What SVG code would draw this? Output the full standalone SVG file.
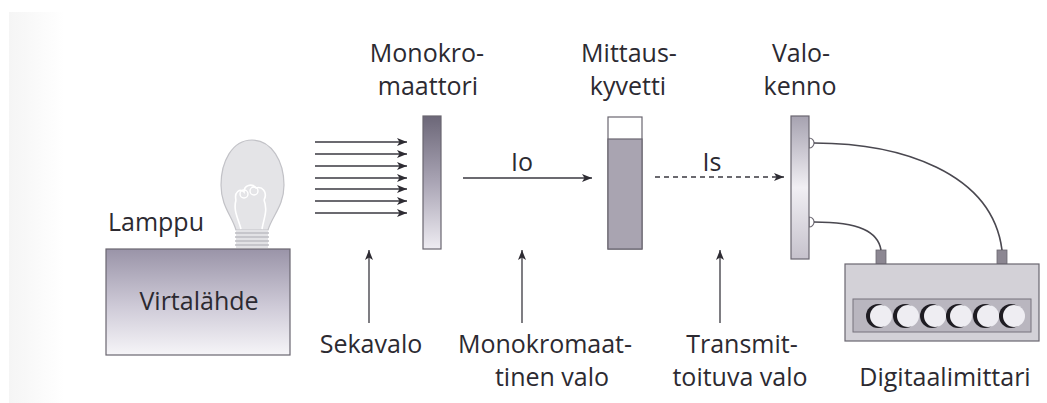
<svg xmlns="http://www.w3.org/2000/svg" width="1047" height="403" viewBox="0 0 1047 403">
  <defs>
    <style>
      .lbl { font-family: "Open Sans", "Noto Sans", "Liberation Sans", sans-serif; font-size: 25px; fill: #2c2a31; text-anchor: middle; }
      .edge { stroke: #3a3840; stroke-width: 1.3; fill: none; }
      .frame { stroke: #6a6670; stroke-width: 1.2; }
      .wire { stroke: #4a4850; stroke-width: 1.6; fill: none; }
    </style>
    <marker id="head" viewBox="0 0 10 8" refX="10" refY="4" markerWidth="10" markerHeight="8" markerUnits="userSpaceOnUse" orient="auto">
      <path d="M0,0 L10,4 L0,8 L2.5,4 Z" fill="#2e2c33"/>
    </marker>
    <linearGradient id="gBox" x1="0" y1="0" x2="0" y2="1">
      <stop offset="0" stop-color="#9a94a8"/>
      <stop offset="0.55" stop-color="#cfcbd8"/>
      <stop offset="1" stop-color="#f6f5f8"/>
    </linearGradient>
    <linearGradient id="gMono" x1="0" y1="0" x2="0" y2="1">
      <stop offset="0" stop-color="#6c6778"/>
      <stop offset="0.5" stop-color="#aaa5b5"/>
      <stop offset="1" stop-color="#eeecf2"/>
    </linearGradient>
    <linearGradient id="gCell" x1="0" y1="0" x2="0" y2="1">
      <stop offset="0" stop-color="#a6a2b0"/>
      <stop offset="0.5" stop-color="#f1eff4"/>
      <stop offset="1" stop-color="#c6c2cc"/>
    </linearGradient>
    <linearGradient id="gPage" x1="0" y1="0" x2="1" y2="0">
      <stop offset="0" stop-color="#f5f5f5"/>
      <stop offset="1" stop-color="#ffffff"/>
    </linearGradient>
  </defs>

  <!-- paper -->
  <rect x="0" y="0" width="1047" height="403" fill="#ffffff"/>
  <rect x="9" y="12" width="55" height="391" fill="url(#gPage)"/>

  <!-- power supply -->
  <g id="virtalahde">
    <rect x="106" y="249" width="184" height="106" fill="url(#gBox)" class="frame"/>
    <text class="lbl" x="199" y="310">Virtalähde</text>
  </g>

  <!-- lamp -->
  <g id="lamppu">
    <path d="M252 140 C272 140 284 162 284 185 C284 206 272 216 268 230 L236 230 C232 216 221 206 221 185 C221 162 232 140 252 140 Z" fill="#e4e4e7" stroke="#c2c2c7" stroke-width="1.2"/>
    <path d="M241 229 C238 218 233 210 236 200 M262 229 C264 218 268 210 264 200" stroke="#ffffff" stroke-width="1.6" fill="none"/>
    <path d="M236 200 C234 192 240 188 244 192 C244 185 252 183 256 188 C262 186 268 192 264 200" stroke="#ffffff" stroke-width="1.6" fill="none"/>
    <circle cx="244" cy="194" r="4" stroke="#ffffff" stroke-width="1.4" fill="none"/>
    <circle cx="254" cy="191" r="4" stroke="#ffffff" stroke-width="1.4" fill="none"/>
    <rect x="236" y="230" width="32" height="18" fill="#e2e2e5"/>
    <path d="M235 233 H269 M235 237 H269 M235 241 H269 M235 245 H269" stroke="#bdbdc2" stroke-width="1.3"/>
    <text class="lbl" x="156" y="231">Lamppu</text>
  </g>

  <!-- monochromator -->
  <g id="monokromaattori">
    <rect x="423" y="116" width="18" height="133" fill="url(#gMono)" class="frame"/>
    <text class="lbl" x="427" y="62">Monokro-</text>
    <text class="lbl" x="428" y="95">maattori</text>
  </g>

  <!-- cuvette -->
  <g id="mittauskyvetti">
    <rect x="608" y="117" width="34" height="132" fill="#ffffff" class="frame"/>
    <rect x="608" y="139" width="34" height="110" fill="#a9a4b1" class="frame"/>
    <text class="lbl" x="629" y="62">Mittaus-</text>
    <text class="lbl" x="628" y="95">kyvetti</text>
  </g>

  <!-- photocell -->
  <g id="valokenno">
    <path d="M809 138 A5 5 0 0 1 809 148 Z" fill="#ffffff" stroke="#6a6670" stroke-width="1.1"/>
    <path d="M809 217 A5 5 0 0 1 809 227 Z" fill="#ffffff" stroke="#6a6670" stroke-width="1.1"/>
    <rect x="791" y="116" width="18" height="143" fill="url(#gCell)" class="frame"/>
    <text class="lbl" x="801" y="62">Valo-</text>
    <text class="lbl" x="800" y="95">kenno</text>
  </g>

  <!-- digital meter -->
  <g id="digitaalimittari">
    <rect x="876" y="250" width="10" height="14" fill="#8c8792" stroke="#6a6670" stroke-width="0.8"/>
    <rect x="997" y="250" width="10" height="14" fill="#8c8792" stroke="#6a6670" stroke-width="0.8"/>
    <rect x="845" y="264" width="194" height="77" fill="#d3d1d7" class="frame"/>
    <rect x="853" y="299" width="178" height="33" fill="#b9b6bf" stroke="#77737d" stroke-width="1"/>
    <g>
      <circle cx="878" cy="316" r="12" fill="#1e1c22"/>
      <circle cx="881" cy="316" r="11" fill="#eeedf2"/>
      <circle cx="905" cy="316" r="12" fill="#1e1c22"/>
      <circle cx="908" cy="316" r="11" fill="#eeedf2"/>
      <circle cx="932" cy="316" r="12" fill="#1e1c22"/>
      <circle cx="935" cy="316" r="11" fill="#eeedf2"/>
      <circle cx="958" cy="316" r="12" fill="#1e1c22"/>
      <circle cx="961" cy="316" r="11" fill="#eeedf2"/>
      <circle cx="985" cy="316" r="12" fill="#1e1c22"/>
      <circle cx="988" cy="316" r="11" fill="#eeedf2"/>
      <circle cx="1011" cy="316" r="12" fill="#1e1c22"/>
      <circle cx="1014" cy="316" r="11" fill="#eeedf2"/>
    </g>
    <text class="lbl" x="945" y="386">Digitaalimittari</text>
  </g>

  <!-- light paths, pointers and wiring -->
  <g id="connectors">
    <path class="edge" marker-end="url(#head)" d="M315 142 H407"/>
    <path class="edge" marker-end="url(#head)" d="M315 154 H407"/>
    <path class="edge" marker-end="url(#head)" d="M315 166 H407"/>
    <path class="edge" marker-end="url(#head)" d="M315 178 H407"/>
    <path class="edge" marker-end="url(#head)" d="M315 189 H407"/>
    <path class="edge" marker-end="url(#head)" d="M315 201 H407"/>
    <path class="edge" marker-end="url(#head)" d="M315 213 H407"/>

    <path class="edge" marker-end="url(#head)" d="M463 178 H592"/>
    <text class="lbl" x="522" y="171">Io</text>

    <path class="edge" marker-end="url(#head)" stroke-dasharray="5 4" d="M655 177 H784"/>
    <text class="lbl" x="712" y="171">Is</text>

    <path class="edge" marker-end="url(#head)" d="M369 323 V250"/>
    <path class="edge" marker-end="url(#head)" d="M522 323 V250"/>
    <path class="edge" marker-end="url(#head)" d="M720 323 V250"/>

    <path class="wire" d="M814 143 C900 143 992 172 1002 250"/>
    <path class="wire" d="M814 222 C860 222 878 232 881 250"/>

    <text class="lbl" x="371" y="353">Sekavalo</text>
    <text class="lbl" x="545" y="353">Monokromaat-</text>
    <text class="lbl" x="552" y="386">tinen valo</text>
    <text class="lbl" x="742" y="353">Transmit-</text>
    <text class="lbl" x="740" y="386">toituva valo</text>
  </g>
</svg>
